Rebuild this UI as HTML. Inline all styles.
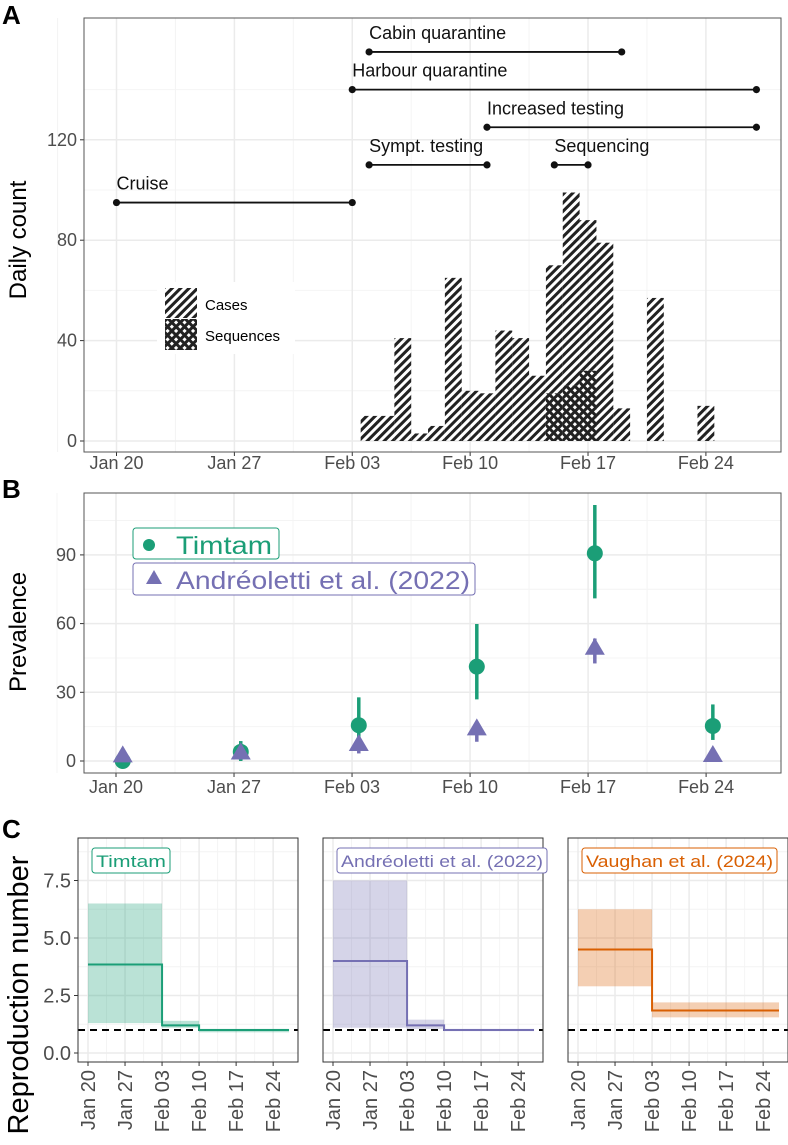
<!DOCTYPE html>
<html><head><meta charset="utf-8"><style>
body{margin:0;background:#fff}
svg{display:block;font-family:"Liberation Sans",sans-serif}
</style></head><body>
<svg id="fig" width="788" height="1145" viewBox="0 0 788 1145" xmlns="http://www.w3.org/2000/svg">
<defs>
<pattern id="hatch" patternUnits="userSpaceOnUse" width="6" height="6" patternTransform="rotate(45)"><rect x="0" y="0" width="3" height="6" fill="#222"/></pattern>
<pattern id="hatch2" patternUnits="userSpaceOnUse" width="6" height="6" patternTransform="rotate(-45)"><rect x="0" y="0" width="3" height="6" fill="#222"/></pattern>
</defs>
<g id="gA"></g>
<g id="gB"></g>
<g id="gC"></g>
</svg>
<script>
// ---------- Data ----------
const dateTicks = ["Jan 20","Jan 27","Feb 03","Feb 10","Feb 17","Feb 24"];
const dateTickDays = [0,7,14,21,28,35];
// Panel A: daily counts (day index from Jan 20)
const caseDays   = [15,16,17,18,19,20,21,22,23,24,25,26,27,28,29,30,32,35];
const caseCounts = [10,10,41,3,6,65,20,19,44,41,26,70,99,88,79,13,57,14];
const seqDays    = [26,27,28];
const seqCounts  = [19,22,28];
const intervalNames  = ["Cruise","Sympt. testing","Sequencing","Increased testing","Harbour quarantine","Cabin quarantine"];
const intervalStart  = [0,15,26,22,14,15];
const intervalEnd    = [14,22,28,38,38,30];
const intervalLevel  = [95,110,110,125,140,155];
const countTicks = [0,40,80,120];
// Panel B: prevalence
const prevDays = [0,7,14,21,28,35];
const timtamMid = [0,4,15.6,41.2,90.7,15.3];
const timtamLo  = [0,0,5,26.9,71,9.2];
const timtamHi  = [1,8.7,27.8,59.8,111.8,24.7];
const andreMid  = [2,3.3,7,13.8,49,2.2];
const andreLo   = [0,1,3.3,8.4,42.6,0];
const andreHi   = [3,5,9,17,53.5,3];
const prevTicks = [0,30,60,90];
// Panel C: reproduction number (step segments)
const facetNames = ["Timtam","Andréoletti et al. (2022)","Vaughan et al. (2024)"];
const facetColors = ["#1b9e77","#7570b3","#d95f02"];
const segStart = [[0,14,21],[0,14,21],[0,14]];
const segEnd   = [[14,21,38],[14,21,38],[14,38]];
const rMid = [[3.85,1.2,1.0],[4.0,1.2,1.0],[4.5,1.85]];
const rLo  = [[1.3,1.1,0.9],[1.1,1.05,0.95],[2.9,1.55]];
const rHi  = [[6.5,1.4,1.05],[7.5,1.45,1.05],[6.25,2.2]];
const rTicks = [0,2.5,5.0,7.5];
const rTickLabels = ["0.0","2.5","5.0","7.5"];

// ---------- helpers ----------
const NS="http://www.w3.org/2000/svg";
function mk(parent,tag,attrs,text){const e=document.createElementNS(NS,tag);for(const k in attrs)e.setAttribute(k,attrs[k]);if(text!==undefined)e.textContent=text;parent.appendChild(e);return e;}
const grid="#ebebeb", gridMinor="#f4f4f4", tickCol="#4d4d4d";

// ---------- Panel A ----------
(function(){
const g=document.getElementById('gA');
const L=84,R=781,T=18,B=452;
const x=d=>116.5+d*16.84, y=v=>441-v*2.51;
let t=mk(g,'text',{x:2,y:24,'font-size':26,'font-weight':'bold'},'A');

for(let v=20;v<=160;v+=40) if(y(v)>T) mk(g,'line',{x1:L,x2:R,y1:y(v),y2:y(v),stroke:gridMinor,'stroke-width':1});
for(let d=-3.5;d<=38;d+=7) mk(g,'line',{x1:x(d),x2:x(d),y1:T,y2:B,stroke:gridMinor,'stroke-width':1});
countTicks.forEach(v=>{mk(g,'line',{x1:L,x2:R,y1:y(v),y2:y(v),stroke:grid,'stroke-width':1.5});
 let tl=mk(g,'text',{x:L-7,y:y(v)+6,'font-size':18,fill:tickCol,'text-anchor':'end'},String(v));
 
 mk(g,'line',{x1:L-4,x2:L,y1:y(v),y2:y(v),stroke:'#333'});});
dateTickDays.forEach((d,i)=>{mk(g,'line',{x1:x(d),x2:x(d),y1:T,y2:B,stroke:grid,'stroke-width':1.5});
 mk(g,'line',{x1:x(d),x2:x(d),y1:B,y2:B+4,stroke:'#333'});
 let tl=mk(g,'text',{x:x(d),y:B+17,'font-size':18,fill:tickCol,'text-anchor':'middle'},dateTicks[i]);
 });
let lg=mk(g,'g',{});
mk(lg,'rect',{x:157,y:282,width:138,height:72,fill:'#fff'});
caseDays.forEach((d,i)=>{let b=mk(g,'rect',{x:x(d-0.5),y:y(caseCounts[i]),width:16.84,height:caseCounts[i]*2.51,fill:'url(#hatch)'});
 });
seqDays.forEach((d,i)=>{mk(g,'rect',{x:x(d-0.5),y:y(seqCounts[i]),width:16.84,height:seqCounts[i]*2.51,fill:'#fff'});
 let b=mk(g,'rect',{x:x(d-0.5),y:y(seqCounts[i]),width:16.84,height:seqCounts[i]*2.51,fill:'url(#hatch)'});
 
 mk(g,'rect',{x:x(d-0.5),y:y(seqCounts[i]),width:16.84,height:seqCounts[i]*2.51,fill:'url(#hatch2)'});});
let k1=mk(lg,'rect',{x:165,y:288,width:32,height:30,fill:'url(#hatch)'});

mk(lg,'rect',{x:165,y:319,width:32,height:31,fill:'url(#hatch)'});
mk(lg,'rect',{x:165,y:319,width:32,height:31,fill:'url(#hatch2)'});
let l1=mk(lg,'text',{x:205,y:310,'font-size':15},'Cases');
let l2=mk(lg,'text',{x:205,y:341,'font-size':15},'Sequences');
intervalNames.forEach((n,i)=>{const yy=y(intervalLevel[i]);
 let ig=mk(g,'g',{});
 mk(ig,'line',{x1:x(intervalStart[i]),x2:x(intervalEnd[i]),y1:yy,y2:yy,stroke:'#111','stroke-width':1.8});
 mk(ig,'circle',{cx:x(intervalStart[i]),cy:yy,r:3.6,fill:'#111'});
 mk(ig,'circle',{cx:x(intervalEnd[i]),cy:yy,r:3.6,fill:'#111'});
 mk(ig,'text',{x:x(intervalStart[i]),y:yy-13,'font-size':18,fill:'#111'},n);});
mk(g,'rect',{x:L,y:T,width:R-L,height:B-T,fill:'none',stroke:'#555','stroke-width':1});
let yt=mk(g,'text',{x:0,y:0,'font-size':24,'text-anchor':'middle',transform:'translate(26,240) rotate(-90)'},'Daily count');

})();

// ---------- Panel B ----------
(function(){
const g=document.getElementById('gB');
const L=84,R=781,T=493,B=773;
const x=d=>116+d*16.86, y=v=>761-v*2.29;
let t=mk(g,'text',{x:2,y:498,'font-size':26,'font-weight':'bold'},'B');

for(let v=15;v<=120;v+=30) if(y(v)>T) mk(g,'line',{x1:L,x2:R,y1:y(v),y2:y(v),stroke:gridMinor});
for(let d=-3.5;d<=38;d+=7) mk(g,'line',{x1:x(d),x2:x(d),y1:T,y2:B,stroke:gridMinor});
prevTicks.forEach(v=>{mk(g,'line',{x1:L,x2:R,y1:y(v),y2:y(v),stroke:grid,'stroke-width':1.5});
 mk(g,'line',{x1:L-4,x2:L,y1:y(v),y2:y(v),stroke:'#333'});
 let tl=mk(g,'text',{x:L-8,y:y(v)+6,'font-size':18,fill:tickCol,'text-anchor':'end'},String(v));
 });
dateTickDays.forEach((d,i)=>{mk(g,'line',{x1:x(d),x2:x(d),y1:T,y2:B,stroke:grid,'stroke-width':1.5});
 mk(g,'line',{x1:x(d),x2:x(d),y1:B,y2:B+4,stroke:'#333'});
 let tl=mk(g,'text',{x:x(d),y:B+20,'font-size':18,fill:tickCol,'text-anchor':'middle'},dateTicks[i]);
 });
const off=0.4;
prevDays.forEach((d,i)=>{const cx=x(d+off);
 let p=mk(g,'g',{});
 mk(p,'line',{x1:cx,x2:cx,y1:y(timtamLo[i]),y2:y(timtamHi[i]),stroke:'#1b9e77','stroke-width':3.5});
 mk(p,'circle',{cx:cx,cy:y(timtamMid[i]),r:8,fill:'#1b9e77'});});
prevDays.forEach((d,i)=>{const cx=x(d+off),cy=y(andreMid[i]);
 let p=mk(g,'g',{});
 mk(p,'line',{x1:cx,x2:cx,y1:y(andreLo[i]),y2:y(andreHi[i]),stroke:'#7570b3','stroke-width':3.5});
 mk(p,'polygon',{points:`${cx},${cy-11} ${cx-10},${cy+6} ${cx+10},${cy+6}`,fill:'#7570b3'});});
mk(g,'rect',{x:L,y:T,width:R-L,height:B-T,fill:'none',stroke:'#555'});
let lg=mk(g,'g',{});
mk(lg,'rect',{x:133,y:528,width:146,height:31,rx:3,fill:'#fff',stroke:'#1b9e77'});
mk(lg,'circle',{cx:149,cy:545,r:6,fill:'#1b9e77'});
let e1=mk(lg,'text',{x:176,y:554,'font-size':25,fill:'#1b9e77',textLength:96,lengthAdjust:'spacingAndGlyphs'},'Timtam');

mk(lg,'rect',{x:133,y:563,width:342,height:32,rx:3,fill:'#fff',stroke:'#7570b3'});
mk(lg,'polygon',{points:'154,570 146,584 162,584',fill:'#7570b3'});
let e2=mk(lg,'text',{x:176,y:589,'font-size':25,fill:'#7570b3',textLength:294,lengthAdjust:'spacingAndGlyphs'},'Andréoletti et al. (2022)');

let yt=mk(g,'text',{x:0,y:0,'font-size':24,'text-anchor':'middle',transform:'translate(26,632) rotate(-90)'},'Prevalence');

})();

// ---------- Panel C ----------
(function(){
const g=document.getElementById('gC');
const T=838,B=1062;
const lefts=[78,323,568], width=220;
const y=v=>1053-v*23;
let t=mk(g,'text',{x:2,y:838,'font-size':26,'font-weight':'bold'},'C');

rTicks.forEach((v,i)=>{let tl=mk(g,'text',{x:71,y:y(v)+7,'font-size':20,fill:tickCol,'text-anchor':'end'},rTickLabels[i]);
 
 mk(g,'line',{x1:74,x2:78,y1:y(v),y2:y(v),stroke:'#333'});});
facetNames.forEach((name,f)=>{
 const L=lefts[f],R=L+width,x=d=>L+10+d*5.29,col=facetColors[f];
 let fg=mk(g,'g',{});
 for(let v=1.25;v<=9;v+=2.5) mk(fg,'line',{x1:L,x2:R,y1:y(v),y2:y(v),stroke:gridMinor});
 for(let d=3.5;d<=38;d+=7) mk(fg,'line',{x1:x(d),x2:x(d),y1:T,y2:B,stroke:gridMinor});
 rTicks.forEach(v=>mk(fg,'line',{x1:L,x2:R,y1:y(v),y2:y(v),stroke:grid,'stroke-width':1.5}));
 dateTickDays.forEach((d,i)=>{mk(fg,'line',{x1:x(d),x2:x(d),y1:T,y2:B,stroke:grid,'stroke-width':1.5});
  mk(fg,'line',{x1:x(d),x2:x(d),y1:B,y2:B+4,stroke:'#333'});
  let tl=mk(fg,'text',{x:0,y:0,'font-size':20,fill:tickCol,'text-anchor':'end',transform:`translate(${x(d)+7},${B+8}) rotate(-90)`},dateTicks[i]);
  });
 segStart[f].forEach((s,i)=>{let r=mk(fg,'rect',{x:x(s),y:y(rHi[f][i]),width:x(segEnd[f][i])-x(s),height:y(rLo[f][i])-y(rHi[f][i]),fill:col,'fill-opacity':0.3});
  });
 mk(fg,'line',{x1:L,x2:R,y1:y(1),y2:y(1),stroke:'#000','stroke-width':2,'stroke-dasharray':'7,5'});
 let dpts=[];
 segStart[f].forEach((s,i)=>{dpts.push(`${x(s)},${y(rMid[f][i])}`);dpts.push(`${x(segEnd[f][i])},${y(rMid[f][i])}`);});
 let pl=mk(fg,'polyline',{points:dpts.join(' '),fill:'none',stroke:col,'stroke-width':2});
 
 mk(fg,'rect',{x:L,y:T,width:width,height:B-T,fill:'none',stroke:'#333'});
 const tw=[78,210,195][f];
 mk(fg,'rect',{x:L+14,y:848,width:tw,height:25,rx:3,fill:'#fff',stroke:col});
 let st=mk(fg,'text',{x:L+14+tw/2,y:867,'font-size':17,fill:col,'text-anchor':'middle',textLength:tw-8,lengthAdjust:'spacingAndGlyphs'},name);
 
});
let yt=mk(g,'text',{x:0,y:0,'font-size':29,'text-anchor':'middle',transform:'translate(28,995) rotate(-90)'},'Reproduction number');

})();
</script>
</body></html>
